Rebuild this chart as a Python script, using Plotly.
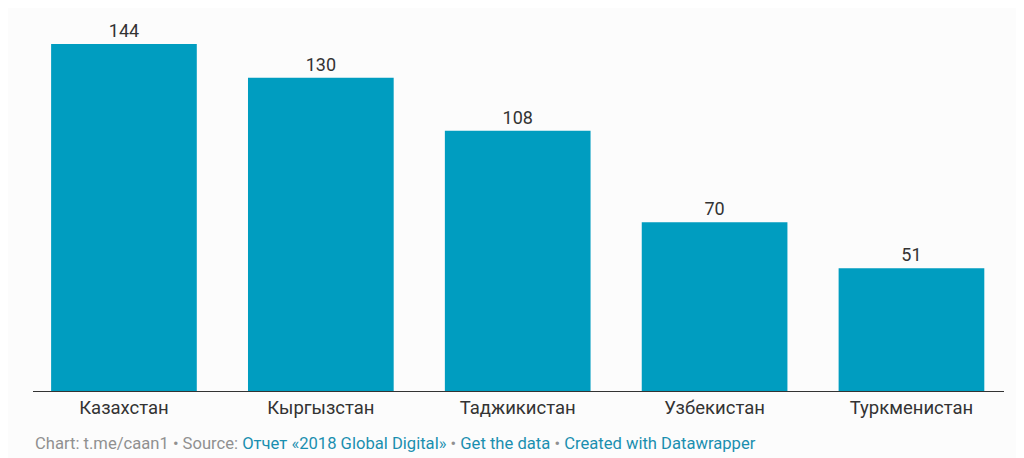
import plotly.graph_objects as go

countries = ["Казахстан", "Кыргызстан", "Таджикистан", "Узбекистан", "Туркменистан"]
values = [144, 130, 108, 70, 51]

bar_color = "#009dc0"
text_color = "#333333"

fig = go.Figure()

fig.add_trace(go.Bar(
    x=countries,
    y=values,
    width=0.74,
    marker=dict(color=bar_color, line=dict(width=0)),
    text=values,
    textposition="outside",
    textfont=dict(family="Roboto", size=18, color=text_color),
    cliponaxis=False,
    hoverinfo="x+y",
))

footer = (
    "<span style='color:#909090'>Chart: t.me/caan1 • Source: </span>"
    "<span style='color:#1a8fb0'>Отчет «2018 Global Digital»</span>"
    "<span style='color:#909090'> • </span>"
    "<span style='color:#1a8fb0'>Get the data</span>"
    "<span style='color:#909090'> • </span>"
    "<span style='color:#1a8fb0'>Created with Datawrapper</span>"
)

fig.add_annotation(
    text=footer, xref="paper", yref="paper",
    x=0, y=0, xanchor="left", yanchor="top", yshift=-41, showarrow=False,
    font=dict(family="Roboto", size=16.6, color="#909090"),
)

# page body has an 8px margin, so margins are offset to land the plot area
fig.update_layout(
    width=1024, height=458,
    margin=dict(l=25, r=28, t=12, b=75),
    paper_bgcolor="#fcfcfc",
    plot_bgcolor="#fcfcfc",
    showlegend=False,
    font=dict(family="Roboto", color=text_color),
    xaxis=dict(
        range=[-0.462, 4.47],
        showline=True, linecolor="#333333", linewidth=1,
        ticks="", showgrid=False,
        tickfont=dict(family="Roboto", size=18.5, color=text_color),
    ),
    yaxis=dict(range=[0, 154], visible=False, showgrid=False, zeroline=False),
)

fig.write_html("out.html")
